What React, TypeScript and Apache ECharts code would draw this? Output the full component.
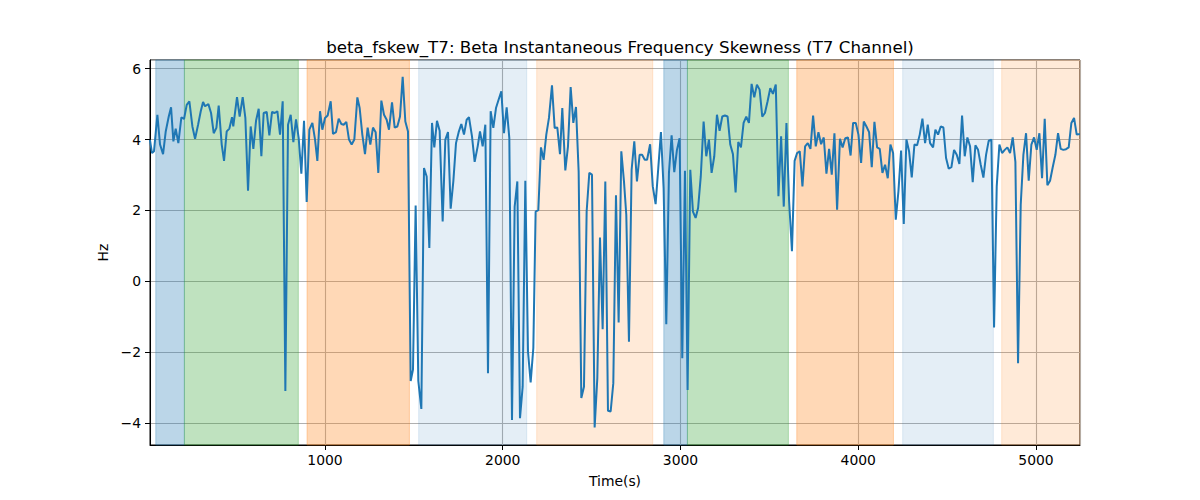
import * as echarts from 'echarts';
import { useEffect, useRef } from 'react';

// sample times (s) and beta frequency skewness (Hz)
const times = [
    15, 27, 38, 57, 72, 89, 104, 121, 134, 147, 160, 175, 192, 207, 222, 237, 254, 269, 286, 301,
    314, 325, 344, 359, 374, 389, 402, 419, 432, 447, 462, 477, 484, 505, 520, 537, 552, 567, 582, 597,
    612, 627, 642, 655, 672, 687, 702, 717, 732, 747, 762, 777, 792, 807, 822, 837, 852, 867, 882, 897,
    912,
    929, 944, 957, 972, 985, 1000, 1015, 1032, 1045, 1062, 1077, 1092, 1105, 1120, 1135, 1150, 1165, 1182, 1195, 1210,
    1225, 1240, 1255, 1270, 1285, 1300, 1317, 1332, 1347, 1360, 1377, 1392, 1407, 1422, 1437, 1452, 1467, 1482, 1495, 1510,
    1525, 1542, 1557, 1572, 1587, 1602, 1615, 1630, 1645, 1662, 1677, 1692, 1707, 1722, 1737, 1752, 1767, 1782,
    1797, 1810, 1827, 1842, 1859, 1872, 1887, 1902, 1917, 1932, 1947, 1962, 1977, 1992, 2007, 2022, 2037, 2052, 2067, 2082,
    2097, 2112, 2127, 2142, 2157, 2172, 2185, 2200, 2215, 2230, 2245, 2260, 2277, 2292, 2307, 2322, 2335, 2352, 2367, 2382,
    2397, 2412, 2427, 2442, 2457, 2472, 2487, 2502, 2517, 2532, 2547, 2562, 2577, 2592, 2607, 2622, 2637, 2652,
    2667, 2682, 2695, 2710, 2725, 2740, 2755, 2770, 2784, 2799, 2812, 2829, 2844, 2860, 2875, 2890, 2905, 2920, 2935, 2950,
    2965, 2980, 2995, 3010, 3025, 3040, 3055, 3070, 3085, 3099, 3114, 3130, 3145, 3160, 3175, 3190, 3205, 3220, 3235, 3250,
    3265, 3280, 3295, 3310, 3325, 3340, 3355, 3370, 3385, 3400, 3415, 3430, 3445, 3460, 3475, 3490, 3505, 3520,
    3536, 3551, 3566, 3581, 3596, 3611, 3627, 3642, 3656, 3671, 3686, 3701, 3716, 3731, 3746, 3761, 3776, 3791, 3806, 3821,
    3836, 3851, 3866, 3881, 3897, 3912, 3927, 3942, 3957, 3971, 3986, 4001, 4016, 4031, 4046, 4061, 4076, 4091, 4106, 4121,
    4136, 4151, 4166, 4181, 4196, 4211, 4226, 4241, 4256, 4271, 4286, 4301, 4316, 4331, 4346, 4361, 4376, 4391,
    4404, 4421, 4434, 4449, 4464, 4479, 4494, 4509, 4524, 4539, 4554, 4569, 4584, 4599, 4614, 4629, 4644, 4659, 4674, 4689,
    4704, 4719, 4734, 4749, 4764, 4779, 4794, 4809, 4824, 4839, 4854, 4869, 4884, 4899, 4914, 4929, 4944, 4959, 4974, 4989,
    5004, 5019, 5034, 5049, 5064, 5079, 5094, 5109, 5124, 5139, 5154, 5169, 5184, 5199, 5214, 5229, 5247,
];

const skew = [
    3.99, 3.62, 3.67, 4.70, 3.86, 3.59, 4.23, 4.65, 4.91, 3.95, 4.31, 3.90, 4.63, 4.58, 4.98, 5.08, 4.37, 4.02, 4.42, 4.80,
    5.06, 4.94, 5.00, 4.75, 4.18, 4.33, 4.96, 3.86, 3.40, 4.23, 4.31, 4.63, 4.37, 5.20, 4.65, 5.20, 4.61, 2.56, 4.37, 3.74,
    4.53, 4.87, 3.53, 4.75, 4.78, 4.12, 4.78, 4.75, 4.80, 4.14, 5.08, -3.09, 4.42, 4.70, 3.93, 4.57, 4.04, 3.04, 4.53, 2.24,
    4.28,
    4.47, 4.00, 3.40, 4.80, 4.28, 4.61, 4.68, 5.08, 4.16, 4.21, 4.59, 4.44, 4.42, 4.50, 4.00, 3.86, 4.00, 5.19, 4.89, 4.14,
    3.59, 4.34, 3.86, 4.34, 4.21, 3.06, 5.10, 4.70, 4.56, 4.28, 5.05, 4.34, 4.37, 4.65, 5.77, 4.51, 4.23, -2.81, -2.49, 2.14,
    -2.81, -3.60, 3.20, 2.96, 0.94, 4.47, 3.78, 4.53, 4.25, 1.69, 4.00, 4.21, 2.05, 2.82, 3.90, 4.21, 4.44, 4.14,
    4.56, 4.63, 4.09, 3.37, 3.81, 4.23, 3.81, 4.42, -2.59, 4.80, 4.33, 4.89, 5.13, 5.36, 4.18, 4.91, 4.04, -3.91, 2.11, 2.82,
    -3.86, -2.97, 2.84, -1.98, -2.85, -1.88, 1.97, 2.01, 3.78, 3.43, 4.14, 4.61, 5.53, 4.33, 4.34, 3.59, 4.89, 3.13, 3.81, 5.48,
    4.47, 4.92, 3.10, -3.29, -2.97, 1.97, 3.06, 3.01, -4.12, -2.73, 1.24, -1.35, 2.82, -3.65, -3.67, -2.87, 2.43, -1.16,
    3.67, 2.82, 1.88, -1.70, 3.15, 3.95, 2.82, 3.57, 3.57, 3.43, 3.43, 3.87, 2.68, 2.18, 3.20, 4.21, 2.63, -1.21, 3.06, 4.12,
    3.08, 3.71, 4.04, -2.17, 3.12, -3.06, 3.15, 1.97, 1.79, 2.07, 2.96, 4.51, 3.53, 4.00, 3.06, 3.53, 4.70, 4.25, 4.65, 4.68,
    4.65, 3.86, 3.59, 2.51, 3.93, 3.78, 4.47, 4.65, 4.47, 5.57, 5.19, 5.55, 5.41, 4.65, 4.75, 5.08, 5.45, 5.29,
    5.55, 2.40, 4.09, 2.11, 4.47, 2.26, 0.85, 3.40, 3.62, 3.67, 2.68, 3.81, 3.90, 3.74, 4.68, 3.81, 4.21, 3.87, 4.06, 3.04,
    3.74, 3.01, 4.18, 2.02, 4.02, 3.78, 4.04, 4.06, 3.55, 4.47, 4.47, 4.14, 3.34, 4.51, 4.37, 4.21, 3.22, 4.50, 3.78, 3.74,
    3.06, 3.29, 2.91, 3.86, 3.62, 1.74, 2.54, 3.69, 1.62, 4.00, 3.67, 2.93, 3.86, 3.84, 4.14, 4.59, 3.90, 4.42,
    3.90, 3.78, 4.28, 4.14, 4.37, 4.34, 3.48, 3.18, 3.22, 3.71, 3.57, 3.31, 4.68, 3.53, 4.06, 3.81, 2.80, 3.84, 3.71, 3.29,
    2.93, 3.57, 3.97, 4.00, -1.30, 2.68, 3.86, 3.62, 3.71, 3.78, 3.62, 4.06, 3.37, -2.31, 2.16, 3.57, 4.18, 2.84, 3.86, 4.06,
    3.71, 4.18, 2.91, 4.59, 2.71, 2.84, 3.22, 3.57, 4.18, 3.74, 3.71, 3.73, 3.78, 4.47, 4.61, 4.14, 4.16,
];

// shaded segments: start, end (s) and their colour
const bandStart = [48, 209, 899, 1527, 2191, 2906, 3039, 3654, 4250, 4807];
const bandEnd = [209, 850, 1475, 2135, 2844, 3039, 3607, 4198, 4760, 5248];
const bandColor = [
    'rgba(31,119,180,0.3)',
    'rgba(44,160,44,0.3)',
    'rgba(255,127,14,0.3)',
    'rgba(31,119,180,0.12)',
    'rgba(255,127,14,0.16)',
    'rgba(31,119,180,0.3)',
    'rgba(44,160,44,0.3)',
    'rgba(255,127,14,0.3)',
    'rgba(31,119,180,0.12)',
    'rgba(255,127,14,0.16)',
];

const FONT = 'DejaVu Sans';

export default function App() {
    const chartRef = useRef<HTMLDivElement>(null);

    useEffect(() => {
        document.body.style.margin = '0';
        const chart = echarts.init(chartRef.current, null, { renderer: 'svg' });

        const option = {
            animation: false,
            title: {
                text: 'beta_fskew_T7: Beta Instantaneous Frequency Skewness (T7 Channel)',
                left: 615,
                top: 33,
                textAlign: 'center',
                textStyle: { fontFamily: FONT, fontSize: 16.7, fontWeight: 'normal', color: '#000' },
            },
            grid: {
                left: 150,
                right: 120,
                top: 60,
                bottom: 55,
                show: true,
                borderColor: '#000',
                borderWidth: 1,
                backgroundColor: 'transparent',
            },
            xAxis: {
                type: 'value',
                min: 15.5,
                max: 5247.5,
                name: 'Time(s)',
                nameLocation: 'middle',
                nameGap: 29,
                nameTextStyle: { fontFamily: FONT, fontSize: 13.9, color: '#000' },
                axisLine: { show: true, onZero: false, lineStyle: { color: '#000', width: 1 } },
                axisTick: { show: true, length: 5, lineStyle: { color: '#000' } },
                axisLabel: {
                    fontFamily: FONT, fontSize: 13.9, color: '#000', margin: 8,
                    showMinLabel: false, showMaxLabel: false,
                    formatter: (v: number) => String(v),
                },
                splitLine: { show: true, lineStyle: { color: '#b0b0b0', width: 1.1 } },
            },
            yAxis: {
                type: 'value',
                min: -4.615,
                max: 6.245,
                name: 'Hz',
                nameLocation: 'middle',
                nameGap: 38,
                nameRotate: 90,
                nameTextStyle: { fontFamily: FONT, fontSize: 13.9, color: '#000' },
                axisLine: { show: true, lineStyle: { color: '#000', width: 1 } },
                axisTick: { show: true, length: 5, lineStyle: { color: '#000' } },
                axisLabel: {
                    fontFamily: FONT, fontSize: 13.9, color: '#000', margin: 9,
                    showMinLabel: false, showMaxLabel: false,
                    formatter: (v: number) => String(v).replace('-', '\u2212'),
                },
                splitLine: { show: true, lineStyle: { color: '#b0b0b0', width: 1.1 } },
            },
            series: [
                {
                    type: 'line',
                    data: times.map((t, i) => [t, skew[i]]),
                    showSymbol: false,
                    lineStyle: { color: '#1f77b4', width: 2 },
                    itemStyle: { color: '#1f77b4' },
                    markArea: {
                        silent: true,
                        data: bandStart.map((s, i) => [
                            { xAxis: s, itemStyle: { color: bandColor[i], borderColor: bandColor[i], borderWidth: 1 } },
                            { xAxis: bandEnd[i] },
                        ]),
                    },
                },
            ],
        };

        chart.setOption(option);

        return () => {
            chart.dispose();
        };
    }, []);

    return <div
        ref={chartRef}
        style={{
            width: '1200px',
            height: '500px',
        }}
    />
}
